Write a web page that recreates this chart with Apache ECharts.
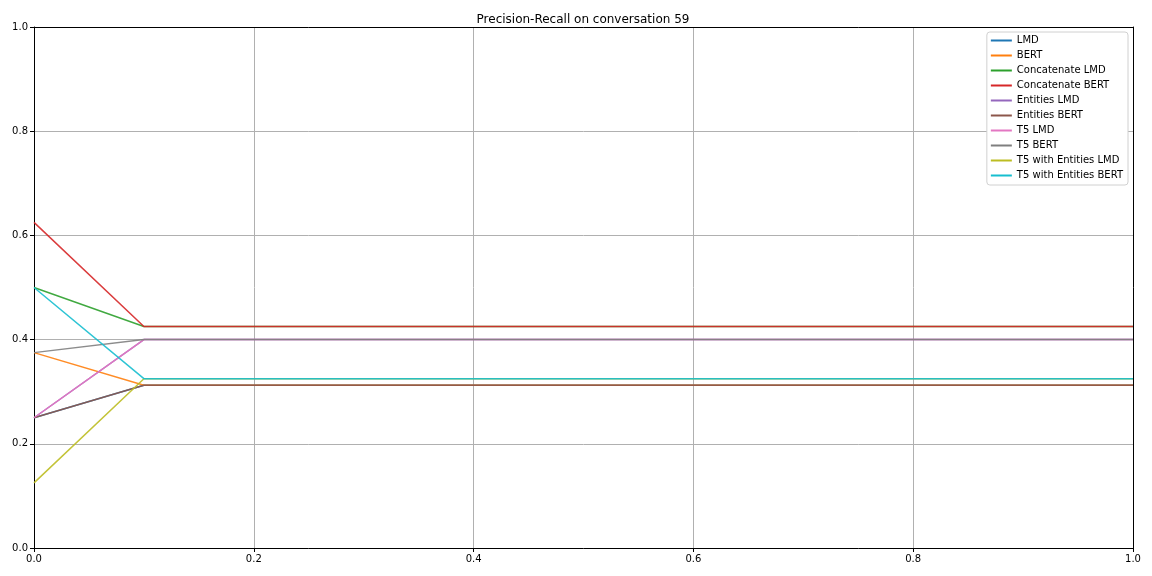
<!DOCTYPE html>
<html><head><meta charset="utf-8">
<script src="https://cdn.jsdelivr.net/npm/echarts@6/dist/echarts.min.js"></script>
<style>html,body{margin:0;padding:0;background:#fff}#c{width:1152px;height:576px}</style>
</head><body><div id="c"></div>
<script>
var recall = [0.0, 0.1, 1.0];
var seriesNames = ["LMD","BERT","Concatenate LMD","Concatenate BERT","Entities LMD","Entities BERT","T5 LMD","T5 BERT","T5 with Entities LMD","T5 with Entities BERT"];
var lmd = [0.25, 0.3125, 0.3125];
var bert = [0.375, 0.3125, 0.3125];
var concatLmd = [0.5, 0.425, 0.425];
var concatBert = [0.625, 0.425, 0.425];
var entitiesLmd = [0.25, 0.4, 0.4];
var entitiesBert = [0.25, 0.3125, 0.3125];
var t5Lmd = [0.25, 0.4, 0.4];
var t5Bert = [0.375, 0.4, 0.4];
var t5EntLmd = [0.125, 0.325, 0.325];
var t5EntBert = [0.5, 0.325, 0.325];
var allValues = [lmd, bert, concatLmd, concatBert, entitiesLmd, entitiesBert, t5Lmd, t5Bert, t5EntLmd, t5EntBert];
var colors = ["#1f77b4","#ff7f0e","#2ca02c","#d62728","#9467bd","#8c564b","#e377c2","#7f7f7f","#bcbd22","#17becf"];
var ticks = [0, 0.2, 0.4, 0.6, 0.8, 1.0];

var chart = echarts.init(document.getElementById('c'), null, {renderer:'canvas'});
var font = 'DejaVu Sans';
var axisCommon = {
  type:'value', min:0, max:1, interval:0.2,
  axisLine:{show:true, onZero:false, lineStyle:{color:'#000', width:1}},
  axisTick:{show:true, inside:false, length:4, lineStyle:{color:'#000'}},
  axisLabel:{color:'#000', fontFamily:font, fontSize:10, margin:6, formatter:function(v){return v.toFixed(1);}},
  splitLine:{show:true, lineStyle:{color:'#b0b0b0', width:1}}
};
var frameAxis = {
  type:'value', min:0, max:1, interval:0.2,
  axisLine:{show:true, onZero:false, lineStyle:{color:'#000', width:1}},
  axisTick:{show:false}, axisLabel:{show:false}, splitLine:{show:false}
};
chart.setOption({
  animation:false,
  color: colors,
  title:{text:'Precision-Recall on conversation 59', left:578, textAlign:'center', top:9,
    textStyle:{fontFamily:font, fontSize:12, fontWeight:'normal', color:'#000'}},
  grid:{left:34, right:19, top:27, bottom:28},
  xAxis: [Object.assign({position:'bottom'}, axisCommon), Object.assign({position:'top'}, frameAxis)],
  yAxis: [Object.assign({position:'left'}, axisCommon), Object.assign({position:'right'}, frameAxis)],
  legend:{
    orient:'vertical', right:24, top:32,
    backgroundColor:'#fff', borderColor:'#d0d0d0', borderWidth:1, borderRadius:3,
    padding:[2,5,3,4],
    icon:'rect', itemWidth:21, itemHeight:2, itemGap:2,
    textStyle:{fontFamily:font, fontSize:10, color:'#000', lineHeight:13},
    data: seriesNames
  },
  series: seriesNames.map(function(n,i){
    return {
      name:n, type:'line', showSymbol:false, symbol:'none',
      lineStyle:{width:1.5, opacity:0.9}, itemStyle:{color:colors[i]},
      data: recall.map(function(r,j){return [r, allValues[i][j]];})
    };
  })
});
</script></body></html>
